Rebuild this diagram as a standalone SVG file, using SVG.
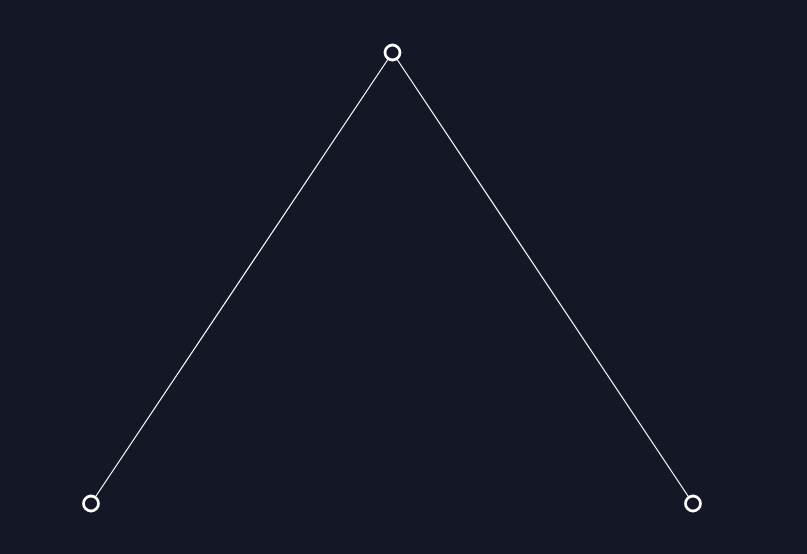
<svg xmlns="http://www.w3.org/2000/svg" width="807" height="554" viewBox="0 0 807 554">
<style>
.node{fill:#141826;stroke:#ffffff;stroke-width:2.8}
.edge{stroke:#ffffff;stroke-width:1.2;fill:none}
</style>
<rect width="807" height="554" fill="#141826"/>
<g id="connectors">
<line class="edge" x1="392.5" y1="52.5" x2="91" y2="503.5"/>
<line class="edge" x1="392.5" y1="52.5" x2="693" y2="503.5"/>
</g>
<g id="node-top"><circle class="node" cx="392.5" cy="52.5" r="7.5"/></g>
<g id="node-left"><circle class="node" cx="91" cy="503.5" r="7.5"/></g>
<g id="node-right"><circle class="node" cx="693" cy="503.5" r="7.5"/></g>
</svg>
